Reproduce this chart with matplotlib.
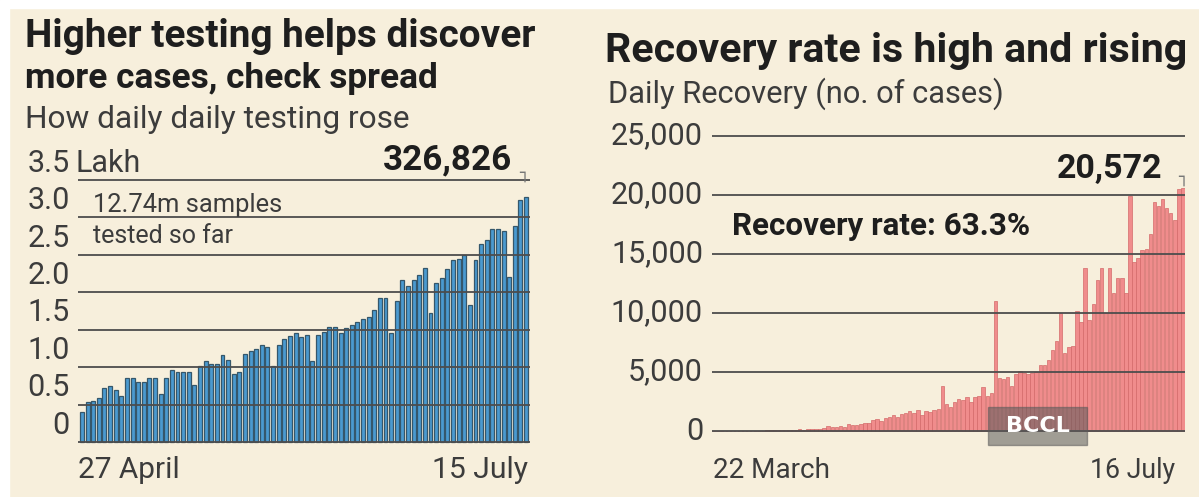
import matplotlib.pyplot as plt
from matplotlib import font_manager
from matplotlib.patches import Rectangle

W, H = 1199, 497

# daily samples tested, lakh (27 April .. 15 July)
testing_lakh = [
    0.40, 0.54, 0.55, 0.59, 0.72, 0.75, 0.70, 0.61, 0.86, 0.86,
    0.80, 0.80, 0.86, 0.86, 0.64, 0.86, 0.96, 0.94, 0.94, 0.94,
    0.76, 1.01, 1.08, 1.04, 1.04, 1.16, 1.09, 0.91, 0.94, 1.18,
    1.21, 1.24, 1.29, 1.27, 1.01, 1.29, 1.38, 1.42, 1.45, 1.40,
    1.43, 1.08, 1.43, 1.47, 1.53, 1.53, 1.45, 1.52, 1.56, 1.60,
    1.64, 1.67, 1.77, 1.93, 1.92, 1.46, 1.88, 2.17, 2.09, 2.17,
    2.23, 2.33, 1.72, 2.12, 2.19, 2.31, 2.43, 2.44, 2.50, 1.83,
    2.43, 2.64, 2.70, 2.85, 2.85, 2.82, 2.21, 2.88, 3.23, 3.26826,
]

# daily recoveries (22 March .. 16 July)
recovery = [
    3, 5, 8, 10, 6, 12, 20, 15, 25, 30,
    20, 40, 35, 50, 60, 45, 70, 80, 90, 75,
    110, 130, 100, 150, 180, 140, 200, 230, 400, 340,
    380, 460, 350, 570, 480, 540, 630, 700, 650, 910,
    1000, 850, 1140, 1200, 1330, 1150, 1450, 1540, 1700, 1500,
    1770, 1400, 1700, 1600, 1800, 1900, 3800, 2300, 2000, 2500,
    2700, 2600, 2900, 2500, 2900, 3000, 3700, 3000, 3200, 11000,
    4500, 4400, 4600, 3800, 4800, 5100, 4900, 4800, 4900, 5000,
    5600, 5600, 6000, 6900, 7600, 10000, 6600, 7100, 7200, 10200,
    9200, 13800, 9400, 10800, 12800, 13800, 10000, 13800, 11700, 13000,
    13000, 11700, 19900, 14300, 14700, 15300, 15400, 16700, 19400, 19100,
    19700, 18900, 18500, 17900, 20500, 20572,
]

left_ticks = [0, 0.5, 1.0, 1.5, 2.0, 2.5, 3.0, 3.5]
left_tick_labels = ["0", "0.5", "1.0", "1.5", "2.0", "2.5", "3.0", "3.5"]
right_ticks = [0, 5000, 10000, 15000, 20000, 25000]
right_tick_labels = ["0", "5,000", "10,000", "15,000", "20,000", "25,000"]

installed = {f.name for f in font_manager.fontManager.ttflist}
FONT = "Liberation Sans Narrow" if "Liberation Sans Narrow" in installed else "Roboto"
plt.rcParams["font.family"] = FONT

BG = "#f7efdc"
GRID = "#4d4d4d"
INK = "#1e1e1e"
SOFT = "#3c3c3c"

fig = plt.figure(figsize=(W / 100, H / 100), dpi=100, facecolor=BG)


def axes_px(x0, y0, x1, y1):
    return fig.add_axes([x0 / W, 1 - y1 / H, (x1 - x0) / W, (y1 - y0) / H])


# ---- left: testing ----
ax1 = axes_px(78, 178.5, 530, 443.5)
ax1.bar(range(len(testing_lakh)), testing_lakh, width=0.7,
        color="#4a9ad0", edgecolor="#35576b", linewidth=0.9)
ax1.set_xlim(-0.7, len(testing_lakh) - 0.3)
ax1.set_ylim(-0.02, 3.52)
ax1.set_yticks(left_ticks)
for v, lab in zip(left_ticks, left_tick_labels):
    ax1.text(-0.018, v + 0.03, lab, transform=ax1.get_yaxis_transform(),
             ha="right", va="bottom", fontsize=22, color=SOFT)
ax1.text(-0.006, 3.53, "Lakh", transform=ax1.get_yaxis_transform(),
         ha="left", va="bottom", fontsize=22, color=SOFT)

# ---- right: recovery ----
ax2 = axes_px(712, 134.2, 1185, 432.8)
ax2.bar(range(len(recovery)), recovery, width=0.85,
        color="#f08c8c", edgecolor="#d46a6a", linewidth=0.5)
ax2.set_xlim(-0.5, len(recovery) - 0.5)
ax2.set_ylim(-150, 25150)
ax2.set_yticks(right_ticks)
for v, lab in zip(right_ticks, right_tick_labels):
    ax2.text(-0.019, v, lab, transform=ax2.get_yaxis_transform(),
             ha="right", va="center", fontsize=22, color=SOFT)

for ax in (ax1, ax2):
    ax.set_facecolor("none")
    ax.set_axisbelow(False)
    ax.yaxis.grid(True, color=GRID, linewidth=1.3)
    ax.tick_params(left=False, bottom=False, labelleft=False, labelbottom=False)
    for s in ax.spines.values():
        s.set_visible(False)

# ---- texts, fitted to the reference widths ----
fig.canvas.draw()
renderer = fig.canvas.get_renderer()


def put(x, y, s, width, **kw):
    t = fig.text(x / W, 1 - y / H, s, va="baseline", **kw)
    w = t.get_window_extent(renderer).width
    t.set_fontsize(t.get_fontsize() * width / w)
    return t


put(25, 47, "Higher testing helps discover", 510, fontsize=30, weight="bold", color=INK)
put(25, 88, "more cases, check spread", 412, fontsize=30, weight="bold", color=INK)
put(25, 128, "How daily daily testing rose", 385, fontsize=22, color=SOFT)
put(605, 62, "Recovery rate is high and rising", 580, fontsize=30, weight="bold", color=INK)
put(608, 103, "Daily Recovery (no. of cases)", 397, fontsize=22, color=SOFT)

put(383, 169, "326,826", 129, fontsize=26, weight="bold", color=INK)
put(1057, 178, "20,572", 106, fontsize=26, weight="bold", color=INK)
put(93, 212, "12.74m samples", 189, fontsize=20, color=SOFT)
put(93, 243, "tested so far", 140, fontsize=20, color=SOFT)
put(732, 235, "Recovery rate: 63.3%", 298, fontsize=22, weight="bold", color=INK)

put(78, 478, "27 April", 102, fontsize=22, color=SOFT)
put(432, 478, "15 July", 96, fontsize=22, color=SOFT)
put(713, 478, "22 March", 117, fontsize=22, color=SOFT)
put(1090, 478, "16 July", 85, fontsize=22, color=SOFT)

fig.text(519 / W, 1 - 178 / H, "\u2510", fontsize=12, color="#777777",
         family="DejaVu Sans", va="baseline")
fig.text(1178 / W, 1 - 182 / H, "\u2510", fontsize=12, color="#777777",
         family="DejaVu Sans", va="baseline")

# watermark box
fig.patches.append(Rectangle((988 / W, 1 - 445 / H), 99 / W, 38 / H,
                             transform=fig.transFigure, color="#5a5a5a",
                             alpha=0.55, zorder=5))
fig.text(1038 / W, 1 - 426 / H, "BCCL", ha="center", va="center",
         fontsize=16, weight="bold", color="white", zorder=6,
         family="DejaVu Sans")

# white paper edge
fig.patches.append(Rectangle((0, 0), 9 / W, 1, transform=fig.transFigure,
                             color="white", zorder=-1))
fig.patches.append(Rectangle((0, 1 - 8 / H), 1, 8 / H, transform=fig.transFigure,
                             color="white", zorder=-1))

fig.savefig("out.png", dpi=100, facecolor=BG)
